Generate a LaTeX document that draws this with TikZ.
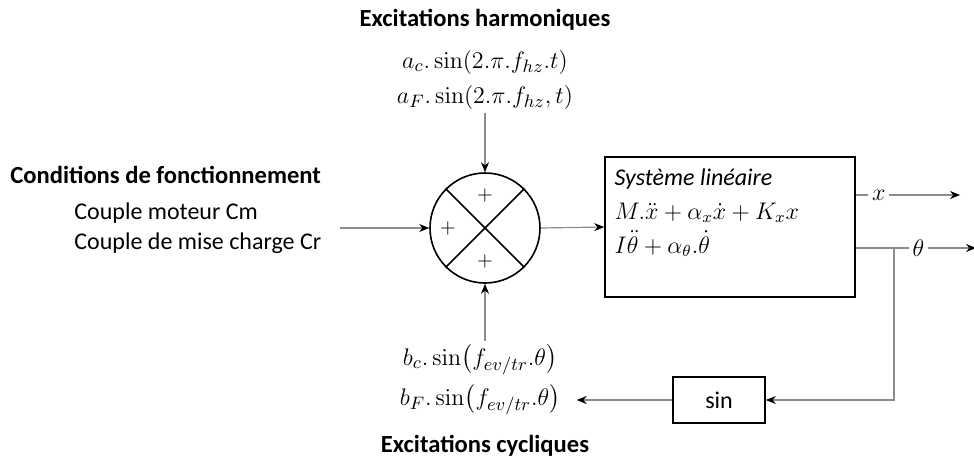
\documentclass[tikz,border=0pt]{standalone}
\usepackage{amsmath}
\usepackage[no-math]{fontspec}
\setmainfont{Carlito}
\usetikzlibrary{arrows.meta, positioning, calc}

\begin{document}
\begin{tikzpicture}[x=0.5pt, y=-0.5pt,
  title/.style={font=\fontsize{12.3}{14}\selectfont\bfseries, inner sep=1pt},
  txt/.style={font=\fontsize{12}{15}\selectfont, align=left, inner sep=1pt},
  eq/.style={font=\fontsize{12.5}{14}\selectfont, inner sep=2pt},
  sysbox/.style={draw, thick, minimum width=125pt, minimum height=70pt, inner sep=0pt},
  sinbox/.style={draw, thick, minimum width=46pt, minimum height=23pt,
                 font=\fontsize{12}{14}\selectfont},
  sumnode/.style={draw, thick, circle, minimum size=55pt, inner sep=0pt},
  arrow/.style={-{Stealth[black, length=5pt, width=4pt]}, draw=gray!90, semithick},
]
  \useasboundingbox (0,0) rectangle (974,466);

  % excitations harmoniques
  \node[title] (harm) at (485,20) {Excitations harmoniques};
  \node[eq] (ac) at (485,62) {$a_c.\sin(2.\pi.f_{hz}.t)$};
  \node[eq] (aF) at (485,97) {$a_F.\sin(2.\pi.f_{hz},t)$};

  % conditions de fonctionnement
  \node[title, anchor=west] (cond) at (8,175) {Conditions de fonctionnement};
  \node[txt, anchor=west] (cm) at (72,213) {Couple moteur Cm};
  \node[txt, anchor=west] (cr) at (72,243) {Couple de mise charge Cr};
  \coordinate (cin) at (340,228);

  % sommateur
  \node[sumnode] (sum) at (485,228) {};
  \draw[thick] (sum.north west) -- (sum.south east);
  \draw[thick] (sum.north east) -- (sum.south west);
  \node (ptop) at (485,195) {$+$};
  \node (pleft) at (448,228) {$+$};
  \node (pbot) at (485,261) {$+$};

  % systeme lineaire
  \node[sysbox] (sys) at (730,227) {};
  \node[txt, anchor=north west, inner sep=0pt]
    (systxt) at ([shift={(10,12)}]sys.north west)
    {\textit{Système linéaire}\\[2pt]
     $M.\ddot{x}+\alpha_x\dot{x}+K_x x$\\[2pt]
     $I\ddot{\theta}+\alpha_\theta.\dot{\theta}$};
  \coordinate (xend) at (960,195);
  \coordinate (thend) at (976,248);
  \coordinate (tap) at (894,248);

  % excitations cycliques
  \node[eq] (bc) at (480,360) {$b_c.\sin\bigl(f_{ev/tr}.\theta\bigr)$};
  \node[eq] (bF) at (480,400) {$b_F.\sin\bigl(f_{ev/tr}.\theta\bigr)$};
  \node[title] (cyc) at (485,446) {Excitations cycliques};
  \node[sinbox] (sin) at (719,400) {sin};

  % liaisons
  \draw[arrow] (aF.south) -- (sum.north);
  \draw[arrow] (cin) -- (sum.west);
  \draw[arrow] (bc.north -| sum.south) -- (sum.south);
  \draw[arrow] (sum.east) -- (sys.west);
  \draw[arrow] (sys.east |- xend) -- node[pos=0.22, fill=white, inner sep=2pt, font=\fontsize{12.5}{14}\selectfont] {$x$} (xend);
  \draw[arrow] (sys.east |- thend) -- node[pos=0.52, fill=white, inner sep=2pt, font=\fontsize{12.5}{14}\selectfont] {$\theta$} (thend);
  \draw[arrow] (tap) |- (sin.east);
  \draw[arrow, shorten >=6pt] (sin.west) -- (bF.east);
\end{tikzpicture}
\end{document}
